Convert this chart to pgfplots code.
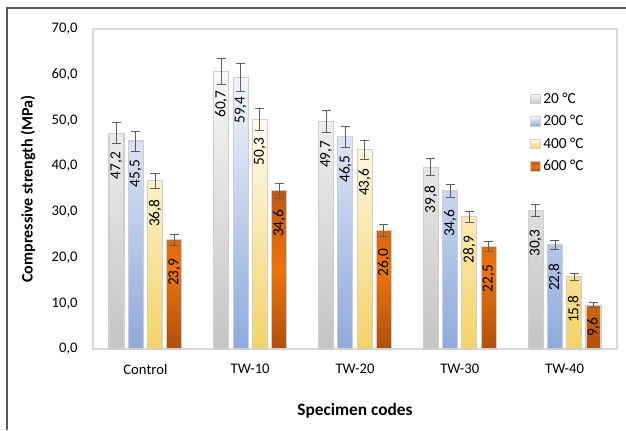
\documentclass[border=0pt]{standalone}
\usepackage{fontspec}
\setmainfont{Carlito}
\usepackage{pgfplots}
\pgfplotsset{compat=1.18}
\usepackage{pgfplotstable}

% gradient colours for the four temperatures
\definecolor{gT}{HTML}{F8F8F8}\definecolor{gB}{HTML}{C4C4C4}
\definecolor{bT}{HTML}{F2F5FB}\definecolor{bB}{HTML}{8EA9DB}
\definecolor{yT}{HTML}{FFFCF0}\definecolor{yB}{HTML}{F4D264}
\definecolor{oT}{HTML}{C2570E}\definecolor{oM}{HTML}{EB740C}\definecolor{oB}{HTML}{B24F0C}
\definecolor{edgec}{HTML}{CFCFCF}
\definecolor{errc}{HTML}{5F5F5F}
\definecolor{framec}{HTML}{5A5A5A}
\definecolor{boxc}{HTML}{D9D9D9}

% compressive strength (MPa) and error (MPa)
\pgfplotstableread{
x y e
0 47.2 2.3
1 60.7 2.9
2 49.7 2.4
3 39.8 1.9
4 30.3 1.4
}\tA
\pgfplotstableread{
x y e
0 45.5 2.2
1 59.4 3.0
2 46.5 2.3
3 34.6 1.5
4 22.8 1.0
}\tB
\pgfplotstableread{
x y e
0 36.8 1.7
1 50.3 2.4
2 43.6 2.1
3 28.9 1.3
4 15.8 0.8
}\tC
\pgfplotstableread{
x y e
0 23.9 1.2
1 34.6 1.6
2 26.0 1.3
3 22.5 1.1
4 9.6 0.5
}\tD

\pgfplotsset{
  strbar/.style={draw=edgec, line width=0.8pt,
    /pgfplots/error bars/y dir=both, /pgfplots/error bars/y explicit,
    /pgfplots/error bars/error bar style={errc, line width=0.6pt},
    /pgfplots/error bars/error mark options={errc, rotate=90, mark size=3.4pt, line width=0.6pt}},
}

\begin{document}
\begin{tikzpicture}
\useasboundingbox (0,0) rectangle (469.5pt,322.5pt);
\draw[framec, line width=1.2pt] (5.25pt,0) -- (5.25pt,316.5pt) -- (469.5pt,316.5pt);
\begin{axis}[
  at={(69.75pt,60.75pt)}, anchor=south west,
  scale only axis, width=393pt, height=240pt,
  xmin=-0.5, xmax=4.5, ymin=0, ymax=70,
  ybar=3.2pt, bar width=11.25pt,
  xtick={0,...,4}, xticklabels={Control,TW-10,TW-20,TW-30,TW-40},
  ytick={0,10,...,70},
  major tick length=0pt,
  axis line style={draw=boxc, line width=0.8pt},
  /pgf/number format/assume math mode=true,
  yticklabel={\pgfmathprintnumber[fixed, fixed zerofill, precision=1, use comma]{\tick}},
  yticklabel style={font=\fontsize{11}{12}\selectfont, xshift=-8pt},
  xticklabel style={font=\fontsize{11}{12}\selectfont, yshift=-8pt},
  ylabel={Compressive strength (MPa)},
  every axis y label/.style={at={(rel axis cs:0,0.5)}, xshift=-48.75pt, rotate=90, anchor=center,
    font=\bfseries\fontsize{12}{13}\selectfont},
  xlabel={Specimen codes},
  every axis x label/.style={at={(rel axis cs:0.5,0)}, yshift=-46.5pt, anchor=center,
    font=\bfseries\fontsize{13}{14}\selectfont},
  legend style={at={(rel axis cs:0.834,0.81)}, anchor=north west, draw=none, fill=none,
    font=\fontsize{11.5}{12}\selectfont, row sep=3.5pt, inner sep=0pt},
  legend cell align=left,
  legend image code/.code={\draw[#1, draw=edgec, line width=0.6pt] (0pt,-3.6pt) rectangle (7.2pt,3.6pt);},
  point meta=y,
  nodes near coords={\pgfmathprintnumber[fixed, fixed zerofill, precision=1, use comma]{\pgfplotspointmeta}},
  every node near coord/.append style={font=\fontsize{11.5}{12}\selectfont, text=black,
    yshift=-10.5pt, rotate=90, anchor=east},
]
\addplot[strbar, top color=gT, bottom color=gB]
  table[x=x, y=y, y error=e] {\tA};
\addplot[strbar, top color=bT, bottom color=bB]
  table[x=x, y=y, y error=e] {\tB};
\addplot[strbar, top color=yT, bottom color=yB]
  table[x=x, y=y, y error=e] {\tC};
\addplot[strbar, top color=oT, bottom color=oB, middle color=oM,
  coordinate style/.condition={y<12}{yshift=5pt}]
  table[x=x, y=y, y error=e] {\tD};
\legend{20 °C, 200 °C, 400 °C, 600 °C}
\end{axis}
\end{tikzpicture}
\end{document}
